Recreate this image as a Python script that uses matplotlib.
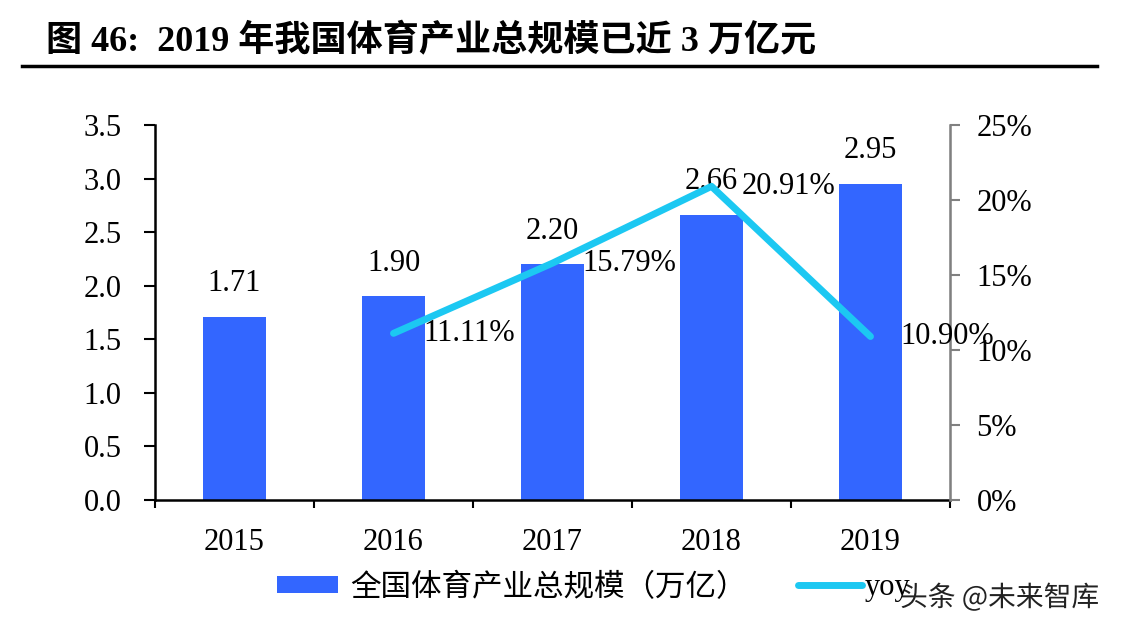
import matplotlib.pyplot as plt
import matplotlib.patheffects as pe
from matplotlib.ticker import FuncFormatter

years = ["2015", "2016", "2017", "2018", "2019"]
scale = [1.71, 1.90, 2.20, 2.66, 2.95]
yoy_years = ["2016", "2017", "2018", "2019"]
yoy = [11.11, 15.79, 20.91, 10.90]

serif = ["Liberation Serif", "Noto Sans CJK SC"]
plt.rcParams['font.family'] = serif
fs = 22

fig = plt.figure(figsize=(11.23, 6.3), dpi=100)
ax = fig.add_axes([155 / 1123, 1 - 500 / 630, 795 / 1123, 375 / 630])
ax2 = ax.twinx()

x = list(range(len(years)))
bars = ax.bar(x, scale, width=0.4, color="#3366FF", zorder=2, label="全国体育产业总规模（万亿）")
for xi, v in zip(x, scale):
    ax.text(xi, v + 0.31, "%.2f" % v, ha="center", va="center", fontsize=fs)

xl = [years.index(y) for y in yoy_years]
line, = ax2.plot(xl, yoy, color="#1CC8F2", lw=5, solid_capstyle="round", label="yoy", zorder=3)
for xi, v in zip(xl, yoy):
    ax2.text(xi + 0.19, v, "%.2f%%" % v, ha="left", va="center", fontsize=fs)

ax.set_xlim(-0.5, 4.5)
ax.set_ylim(0, 3.5)
ax.set_yticks([0, 0.5, 1.0, 1.5, 2.0, 2.5, 3.0, 3.5])
ax.yaxis.set_major_formatter(FuncFormatter(lambda v, p: "%.1f" % v))
ax2.set_ylim(0, 25)
ax2.set_yticks([0, 5, 10, 15, 20, 25])
ax2.yaxis.set_major_formatter(FuncFormatter(lambda v, p: "%d%%" % v))

ax.set_xticks([i - 0.5 for i in range(6)])
ax.set_xticklabels([])
ax.set_xticks(x, minor=True)
ax.set_xticklabels(years, minor=True)
ax.tick_params(axis="x", which="major", length=6, width=1.5, direction="out")
ax.tick_params(axis="x", which="minor", length=0, pad=20, labelsize=fs)
ax.tick_params(axis="y", length=8, width=1.5, labelsize=fs, pad=16)
ax2.tick_params(axis="y", length=7, width=1.5, color="#808080", labelsize=fs, pad=12)

for a in (ax, ax2):
    a.spines["top"].set_visible(False)
ax.spines["left"].set_linewidth(1.8)
ax.spines["bottom"].set_linewidth(1.8)
ax2.spines["right"].set_color("#808080")
ax2.spines["right"].set_linewidth(1.8)
ax2.spines["left"].set_visible(False)
ax2.spines["bottom"].set_visible(False)

fig.text(46 / 1123, 1 - 42 / 630, "图 46:  2019 年我国体育产业总规模已近 3 万亿元",
         fontsize=26, fontweight="bold", va="center", ha="left")
fig.add_artist(plt.Line2D([22 / 1123, 1097 / 1123], [1 - 66 / 630, 1 - 66 / 630],
                          color="black", lw=2.5))

fig.legend(handles=[bars], loc="center left", bbox_to_anchor=(249 / 1123, 1 - 588 / 630),
           frameon=False, handlelength=2.0, handleheight=0.5, handletextpad=0.4,
           prop={"family": serif, "size": fs})
fig.legend(handles=[line], loc="center left", bbox_to_anchor=(770 / 1123, 1 - 588 / 630),
           frameon=False, handlelength=2.1, handletextpad=0.1,
           prop={"family": serif, "size": fs})

fig.text(900 / 1123, 1 - 598 / 630, "头条 @未来智库", fontsize=20, color="#222222",
         family=["Noto Sans CJK SC", "DejaVu Sans"], va="center", ha="left",
         path_effects=[pe.withStroke(linewidth=5, foreground="white")])

fig.savefig("out.png", dpi=100)
